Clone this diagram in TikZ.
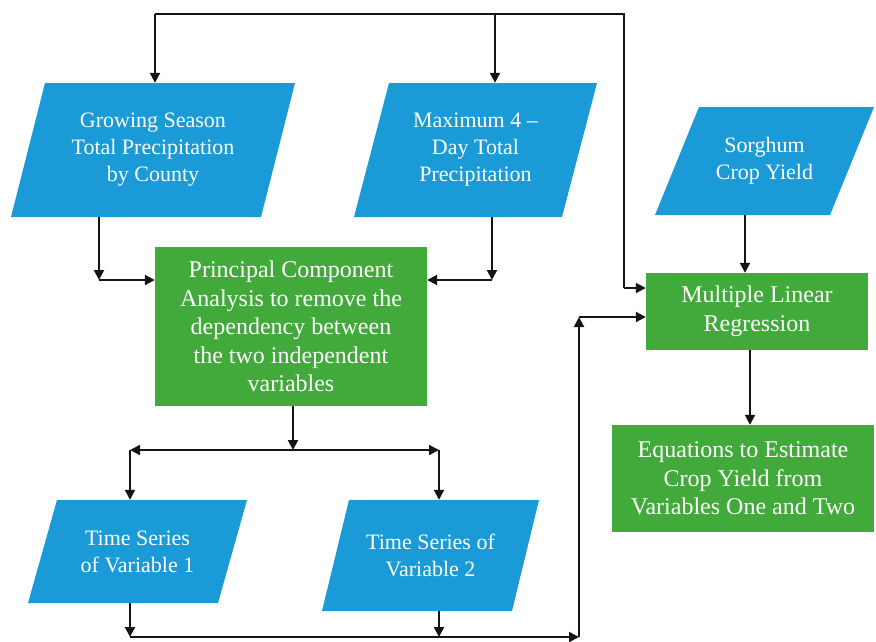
\documentclass[tikz,border=0pt]{standalone}
\usepackage{fontspec}
\setmainfont{Liberation Serif}
\usetikzlibrary{arrows.meta,calc}

\definecolor{datablue}{RGB}{26,154,214}
\definecolor{procgreen}{RGB}{65,170,59}
\definecolor{wiregray}{RGB}{20,20,20}

\tikzset{
  conn/.style={draw=wiregray, line width=2pt},
  connarrow/.style={conn, -{Triangle[length=10pt,width=10pt]}},
  datatext/.style={shape=rectangle, inner sep=0pt, align=center, text=white,
    font=\fontsize{22}{27}\selectfont},
  procbox/.style={shape=rectangle, fill=procgreen, inner sep=0pt, align=center,
    text=white, font=\fontsize{24}{28.5}\selectfont},
}

% slanted data box: name, centre x, centre y, full width, height, slant, text
\newcommand\dataslant[7]{%
  \fill[datablue] ({#2-#4/2},{#3+#5/2}) -- ({#2+#4/2-#6},{#3+#5/2})
    -- ({#2+#4/2},{#3-#5/2}) -- ({#2-#4/2+#6},{#3-#5/2}) -- cycle;
  \node[datatext, minimum width={#4-#6}, minimum height=#5] (#1) at (#2,#3) {#7};
}

\begin{document}
\begin{tikzpicture}[x=1pt,y=-1pt]
\useasboundingbox (0,0) rectangle (876,641);

% input data
\dataslant{p1}{153}{150}{284}{134}{34}{Growing Season\\Total Precipitation\\by County}
\dataslant{p2}{475.5}{150}{243}{134}{35}{Maximum 4 –\\Day Total\\Precipitation}
\dataslant{p3}{764.5}{161}{219}{108}{44}{Sorghum\\Crop Yield}
\dataslant{ts1}{137.5}{551.5}{219}{103}{29}{Time Series\\of Variable 1}
\dataslant{ts2}{430.5}{555.5}{217}{111}{27}{Time Series of\\Variable 2}

% processing steps
\node[procbox, minimum width=272, minimum height=159] (pca) at (291,326.5)
  {Principal Component\\Analysis to remove the\\dependency between\\the two independent\\variables};
\node[procbox, minimum width=222, minimum height=77] (mlr) at (757,311.5)
  {Multiple Linear\\Regression};
\node[procbox, minimum width=262, minimum height=107] (eq) at (743,478.5)
  {Equations to Estimate\\Crop Yield from\\Variables One and Two};

% top feedback bus
\coordinate (t1) at (155,14);
\coordinate (t2) at (495,14);
\coordinate (t3) at (624,14);
\coordinate (t4) at (624,288);
\draw[conn] (t1) -- (t3) -- (t4);
\draw[connarrow] (t1) -- (t1 |- p1.north);
\draw[connarrow] (t2) -- (t2 |- p2.north);
\draw[connarrow] (t4) -- (t4 -| mlr.west);

% precipitation inputs into PCA
\coordinate (a1) at (99,280);
\coordinate (a2) at (492,280);
\draw[connarrow] (a1 |- p1.south) -- (a1);
\draw[connarrow] (a1) -- (a1 -| pca.west);
\draw[connarrow] (a2 |- p2.south) -- (a2);
\draw[connarrow] (a2) -- (a2 -| pca.east);

% PCA splits into two series
\coordinate (b0) at (293,450);
\coordinate (b1) at (130,450);
\coordinate (b2) at (439,450);
\draw[connarrow] (b0 |- pca.south) -- (b0);
\draw[connarrow] (b0) -- (b1);
\draw[connarrow] (b0) -- (b2);
\draw[connarrow] (b1) -- (b1 |- ts1.north);
\draw[connarrow] (b2) -- (b2 |- ts2.north);

% series feed the regression
\coordinate (d1) at (130,637);
\coordinate (d2) at (439,637);
\coordinate (d3) at (579,637);
\coordinate (d4) at (579,317);
\draw[connarrow] (d1 |- ts1.south) -- (d1);
\draw[connarrow] (d2 |- ts2.south) -- (d2);
\draw[connarrow] (d1) -- (d3);
\draw[connarrow] (d3) -- (d4);
\draw[connarrow] (d4) -- (d4 -| mlr.west);

% crop yield into regression, regression to equations
\coordinate (s) at (745,0);
\coordinate (r) at (750,0);
\draw[connarrow] (s |- p3.south) -- (s |- mlr.north);
\draw[connarrow] (r |- mlr.south) -- (r |- eq.north);
\end{tikzpicture}
\end{document}
